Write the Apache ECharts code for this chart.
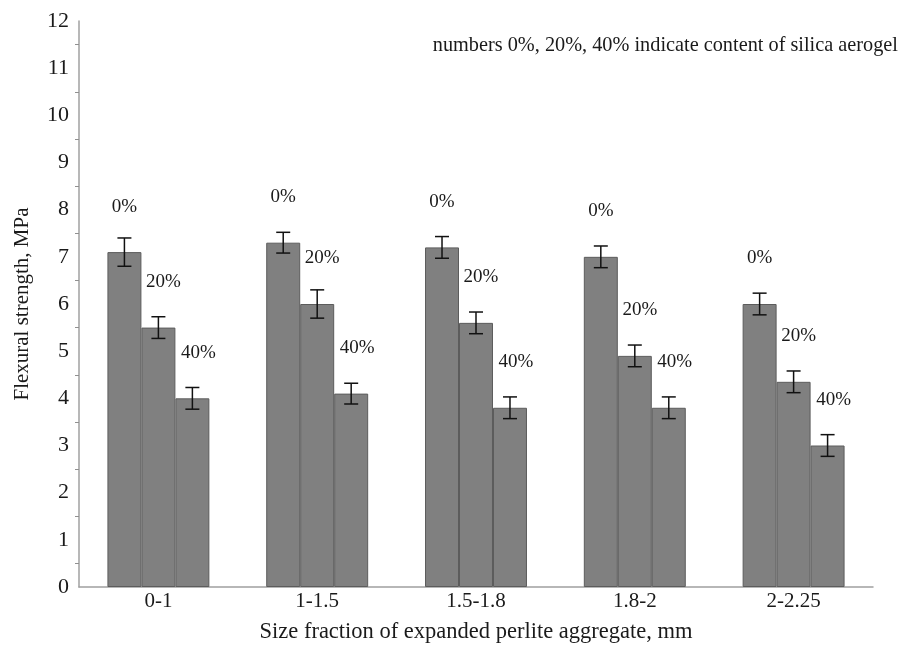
<!DOCTYPE html>
<html>
<head>
<meta charset="utf-8">
<script src="https://cdn.jsdelivr.net/npm/echarts@6/dist/echarts.min.js"></script>
<style>
  html, body { margin: 0; padding: 0; background: #fff; }
  #chart { width: 903px; height: 653px; }
</style>
</head>
<body>
<div id="chart"></div>
<script>
// Size fractions of expanded perlite aggregate (mm)
const categories = ['0-1', '1-1.5', '1.5-1.8', '1.8-2', '2-2.25'];
// Silica aerogel content for each bar in a group
const seriesNames = ['0%', '20%', '40%'];
// Flexural strength (MPa) per aerogel content
const strength0 = [7.1, 7.3, 7.2, 7.0, 6.0];
const strength20 = [5.5, 6.0, 5.6, 4.9, 4.35];
const strength40 = [4.0, 4.1, 3.8, 3.8, 3.0];
// Standard deviations (MPa)
const error0 = [0.3, 0.22, 0.23, 0.23, 0.23];
const error20 = [0.23, 0.3, 0.23, 0.23, 0.23];
const error40 = [0.23, 0.22, 0.23, 0.23, 0.23];
// Value axis tick labels
const yTicks = [0, 1, 2, 3, 4, 5, 6, 7, 8, 9, 10, 11, 12];

const values = [strength0, strength20, strength40];
const errors = [error0, error20, error40];

const FONT = '"Liberation Serif", "DejaVu Serif", serif';
const TEXT = '#1a1a1a';
const GAP = 0.358;          // category gap fraction
const labelShift = [0, 5, 6];

const errorData = [];
values.forEach((arr, s) => {
  arr.forEach((v, i) => errorData.push([i, v, errors[s][i], s]));
});

const barSeries = seriesNames.map((name, s) => ({
  name: name,
  type: 'bar',
  data: values[s],
  barGap: '0%',
  barCategoryGap: (GAP * 100) + '%',
  itemStyle: { color: '#808080', borderColor: '#5c5c5c', borderWidth: 1 },
  label: {
    show: true,
    position: 'top',
    distance: 36,
    offset: [labelShift[s], 0],
    formatter: () => name,
    fontFamily: FONT,
    fontSize: 19,
    color: TEXT
  },
  silent: true,
  z: 2
}));

const chart = echarts.init(document.getElementById('chart'), null, { renderer: 'canvas' });
chart.setOption({
  animation: false,
  backgroundColor: '#fff',
  grid: { left: 79, right: 30, top: 21, bottom: 66, containLabel: false, outerBoundsMode: 'none' },
  xAxis: {
    type: 'category',
    data: categories,
    axisTick: { show: false },
    axisLine: { lineStyle: { color: '#a0a0a0', width: 1.5 } },
    axisLabel: { fontFamily: FONT, fontSize: 21, color: TEXT, margin: 4 },
    name: 'Size fraction of expanded perlite aggregate, mm',
    nameLocation: 'middle',
    nameGap: 34,
    nameTextStyle: { fontFamily: FONT, fontSize: 22.5, color: TEXT }
  },
  yAxis: {
    type: 'value',
    min: yTicks[0],
    max: yTicks[yTicks.length - 1],
    interval: 1,
    axisLine: { show: true, lineStyle: { color: '#a0a0a0', width: 1.5 } },
    axisTick: { show: false },
    minorTick: { show: true, splitNumber: 2, length: 4, lineStyle: { color: '#909090' } },
    splitLine: { show: false },
    axisLabel: { fontFamily: FONT, fontSize: 22, color: TEXT, margin: 10 },
    name: 'Flexural strength, MPa',
    nameLocation: 'middle',
    nameRotate: 90,
    nameGap: 46,
    nameTextStyle: { fontFamily: FONT, fontSize: 21, color: TEXT }
  },
  graphic: [{
    type: 'text',
    right: 5,
    top: 36,
    style: {
      text: 'numbers 0%, 20%, 40% indicate content of silica aerogel',
      font: '20.3px ' + FONT,
      fill: TEXT
    }
  }],
  series: barSeries.concat([{
    type: 'custom',
    name: 'error',
    data: errorData,
    z: 5,
    silent: true,
    renderItem: function (params, api) {
      const cat = api.value(0);
      const mean = api.value(1);
      const err = api.value(2);
      const idx = api.value(3);
      const band = api.size([1, 0])[0];
      const barW = band * (1 - GAP) / 3;
      const cx = api.coord([cat, mean])[0] + (idx - 1) * barW;
      const yHi = api.coord([cat, mean + err])[1];
      const yLo = api.coord([cat, mean - err])[1];
      const half = 7;
      const style = { stroke: '#111', lineWidth: 1.5 };
      return {
        type: 'group',
        children: [
          { type: 'line', shape: { x1: cx, y1: yHi, x2: cx, y2: yLo }, style: style },
          { type: 'line', shape: { x1: cx - half, y1: yHi, x2: cx + half, y2: yHi }, style: style },
          { type: 'line', shape: { x1: cx - half, y1: yLo, x2: cx + half, y2: yLo }, style: style }
        ]
      };
    }
  }])
});
</script>
</body>
</html>
